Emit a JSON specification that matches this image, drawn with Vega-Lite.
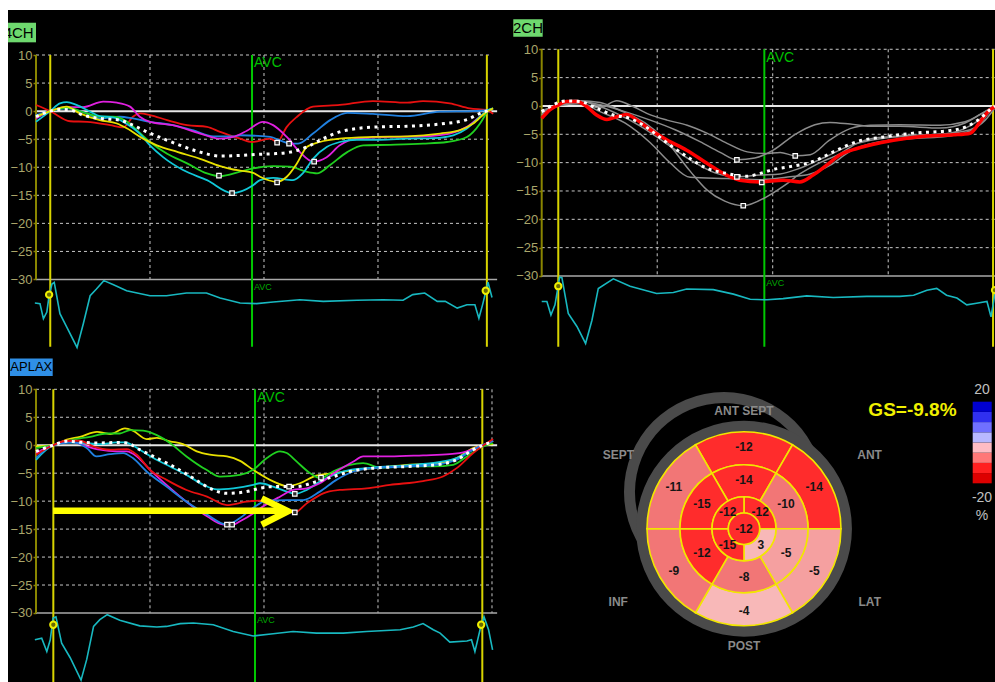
{
"$schema": "https://vega.github.io/schema/vega-lite/v6.json",
"background": "#ffffff",
"padding": {"left": 8, "top": 10, "right": 0, "bottom": 0},
"columns": 2,
"spacing": 0,
"bounds": "flush",
"config": {"font": "Liberation Sans", "view": {"stroke": null, "fill": "#000000"}},
"resolve": {"scale": {"color": "independent"}},
"datasets": {
"a4c": [
{"seg":"bAL","t":0,"s":1.1},{"seg":"bAL","t":25,"s":0},{"seg":"bAL","t":60,"s":-1.8},{"seg":"bAL","t":90,"s":-1.9},{"seg":"bAL","t":130,"s":-2.5},{"seg":"bAL","t":153,"s":-2.9},{"seg":"bAL","t":170,"s":-1.0},{"seg":"bAL","t":183,"s":-0.4},{"seg":"bAL","t":200,"s":-0.7},{"seg":"bAL","t":230,"s":-1.6},{"seg":"bAL","t":265,"s":-2.5},{"seg":"bAL","t":300,"s":-2.8},{"seg":"bAL","t":323,"s":-3.7},{"seg":"bAL","t":346,"s":-4.5},{"seg":"bAL","t":358,"s":-4.9},{"seg":"bAL","t":379,"s":-5.5},{"seg":"bAL","t":411,"s":-4.9},{"seg":"bAL","t":423,"s":-5.5},{"seg":"bAL","t":440,"s":-2.8},{"seg":"bAL","t":458,"s":-1.0},{"seg":"bAL","t":486,"s":0.8},{"seg":"bAL","t":533,"s":1.1},{"seg":"bAL","t":591,"s":1.8},{"seg":"bAL","t":651,"s":1.5},{"seg":"bAL","t":679,"s":1.8},{"seg":"bAL","t":726,"s":1.4},{"seg":"bAL","t":761,"s":0.5},{"seg":"bAL","t":791,"s":0.2},{"seg":"bAL","t":802,"s":-0.5},
{"seg":"mAL","t":0,"s":-0.7},{"seg":"mAL","t":25,"s":0},{"seg":"mAL","t":54,"s":0.5},{"seg":"mAL","t":89,"s":-0.4},{"seg":"mAL","t":112,"s":-1.3},{"seg":"mAL","t":147,"s":-1.0},{"seg":"mAL","t":170,"s":-1.3},{"seg":"mAL","t":200,"s":-1.9},{"seg":"mAL","t":240,"s":-2.5},{"seg":"mAL","t":275,"s":-3.4},{"seg":"mAL","t":311,"s":-4.5},{"seg":"mAL","t":346,"s":-4.5},{"seg":"mAL","t":358,"s":-4.3},{"seg":"mAL","t":411,"s":-4.6},{"seg":"mAL","t":428,"s":-5.2},{"seg":"mAL","t":446,"s":-5.8},{"seg":"mAL","t":460,"s":-5.8},{"seg":"mAL","t":486,"s":-4.0},{"seg":"mAL","t":516,"s":-1.6},{"seg":"mAL","t":546,"s":-0.3},{"seg":"mAL","t":591,"s":-0.5},{"seg":"mAL","t":651,"s":-0.9},{"seg":"mAL","t":709,"s":-0.1},{"seg":"mAL","t":767,"s":0.0},{"seg":"mAL","t":796,"s":0.2},
{"seg":"apL","t":0,"s":-1.3},{"seg":"apL","t":25,"s":0},{"seg":"apL","t":54,"s":0.7},{"seg":"apL","t":82,"s":0.7},{"seg":"apL","t":118,"s":1.7},{"seg":"apL","t":142,"s":1.5},{"seg":"apL","t":165,"s":0.8},{"seg":"apL","t":182,"s":-1.0},{"seg":"apL","t":200,"s":-1.9},{"seg":"apL","t":240,"s":-2.5},{"seg":"apL","t":288,"s":-4.0},{"seg":"apL","t":323,"s":-4.9},{"seg":"apL","t":346,"s":-4.6},{"seg":"apL","t":370,"s":-3.5},{"seg":"apL","t":398,"s":-1.9},{"seg":"apL","t":416,"s":-2.5},{"seg":"apL","t":440,"s":-4.6},{"seg":"apL","t":463,"s":-7.3},{"seg":"apL","t":486,"s":-9.0},{"seg":"apL","t":510,"s":-8.2},{"seg":"apL","t":533,"s":-6.1},{"seg":"apL","t":563,"s":-4.9},{"seg":"apL","t":621,"s":-4.6},{"seg":"apL","t":679,"s":-4.5},{"seg":"apL","t":726,"s":-4.0},{"seg":"apL","t":756,"s":-2.8},{"seg":"apL","t":779,"s":-1.0},{"seg":"apL","t":796,"s":0.2},
{"seg":"apS","t":0,"s":-1.0},{"seg":"apS","t":25,"s":0},{"seg":"apS","t":54,"s":0.6},{"seg":"apS","t":89,"s":-0.4},{"seg":"apS","t":112,"s":-1.0},{"seg":"apS","t":135,"s":-1.0},{"seg":"apS","t":160,"s":-1.9},{"seg":"apS","t":177,"s":-3.4},{"seg":"apS","t":200,"s":-5.5},{"seg":"apS","t":230,"s":-7.6},{"seg":"apS","t":265,"s":-9.3},{"seg":"apS","t":300,"s":-11.1},{"seg":"apS","t":323,"s":-11.6},{"seg":"apS","t":358,"s":-10.8},{"seg":"apS","t":381,"s":-10.2},{"seg":"apS","t":416,"s":-9.8},{"seg":"apS","t":446,"s":-9.9},{"seg":"apS","t":474,"s":-10.8},{"seg":"apS","t":493,"s":-11.1},{"seg":"apS","t":516,"s":-9.6},{"seg":"apS","t":546,"s":-7.3},{"seg":"apS","t":574,"s":-6.1},{"seg":"apS","t":621,"s":-6.0},{"seg":"apS","t":679,"s":-5.8},{"seg":"apS","t":721,"s":-5.5},{"seg":"apS","t":756,"s":-4.6},{"seg":"apS","t":779,"s":-2.2},{"seg":"apS","t":793,"s":0.2},
{"seg":"mIS","t":0,"s":-1.9},{"seg":"mIS","t":25,"s":0},{"seg":"mIS","t":42,"s":1.4},{"seg":"mIS","t":54,"s":1.6},{"seg":"mIS","t":71,"s":1.1},{"seg":"mIS","t":95,"s":-0.1},{"seg":"mIS","t":112,"s":-0.9},{"seg":"mIS","t":135,"s":-1.1},{"seg":"mIS","t":158,"s":-2.2},{"seg":"mIS","t":182,"s":-4.0},{"seg":"mIS","t":200,"s":-6.1},{"seg":"mIS","t":223,"s":-8.2},{"seg":"mIS","t":258,"s":-10.5},{"seg":"mIS","t":300,"s":-12.3},{"seg":"mIS","t":344,"s":-14.6},{"seg":"mIS","t":381,"s":-13.2},{"seg":"mIS","t":393,"s":-12.3},{"seg":"mIS","t":416,"s":-11.9},{"seg":"mIS","t":451,"s":-12.3},{"seg":"mIS","t":468,"s":-11.1},{"seg":"mIS","t":486,"s":-8.5},{"seg":"mIS","t":510,"s":-6.4},{"seg":"mIS","t":533,"s":-5.5},{"seg":"mIS","t":563,"s":-5.1},{"seg":"mIS","t":604,"s":-5.1},{"seg":"mIS","t":651,"s":-4.9},{"seg":"mIS","t":697,"s":-4.8},{"seg":"mIS","t":732,"s":-4.3},{"seg":"mIS","t":756,"s":-3.1},{"seg":"mIS","t":779,"s":-1.0},{"seg":"mIS","t":793,"s":0.2},{"seg":"mIS","t":802,"s":0.5},
{"seg":"bIS","t":0,"s":-1.0},{"seg":"bIS","t":25,"s":0},{"seg":"bIS","t":54,"s":0.8},{"seg":"bIS","t":77,"s":-0.4},{"seg":"bIS","t":112,"s":-1.6},{"seg":"bIS","t":142,"s":-2.2},{"seg":"bIS","t":160,"s":-3.1},{"seg":"bIS","t":188,"s":-4.9},{"seg":"bIS","t":212,"s":-6.1},{"seg":"bIS","t":249,"s":-7.3},{"seg":"bIS","t":288,"s":-8.5},{"seg":"bIS","t":323,"s":-9.8},{"seg":"bIS","t":346,"s":-10.4},{"seg":"bIS","t":358,"s":-10.6},{"seg":"bIS","t":381,"s":-11.0},{"seg":"bIS","t":393,"s":-11.7},{"seg":"bIS","t":423,"s":-12.6},{"seg":"bIS","t":440,"s":-11.7},{"seg":"bIS","t":458,"s":-9.3},{"seg":"bIS","t":475,"s":-6.4},{"seg":"bIS","t":498,"s":-5.5},{"seg":"bIS","t":533,"s":-4.9},{"seg":"bIS","t":591,"s":-4.6},{"seg":"bIS","t":651,"s":-4.5},{"seg":"bIS","t":709,"s":-4.0},{"seg":"bIS","t":744,"s":-3.4},{"seg":"bIS","t":767,"s":-2.2},{"seg":"bIS","t":791,"s":-0.1},{"seg":"bIS","t":802,"s":0.5}
],
"a4cAvg": [
{"t":0,"s":-1.0},{"t":25,"s":0},{"t":42,"s":0.3},{"t":60,"s":0.2},{"t":82,"s":-0.7},{"t":112,"s":-1.3},{"t":147,"s":-1.6},{"t":170,"s":-2.5},{"t":195,"s":-3.7},{"t":223,"s":-4.9},{"t":253,"s":-6.1},{"t":288,"s":-7.3},{"t":323,"s":-8.0},{"t":358,"s":-7.9},{"t":388,"s":-7.7},{"t":416,"s":-7.6},{"t":446,"s":-7.3},{"t":475,"s":-6.4},{"t":504,"s":-4.9},{"t":533,"s":-3.7},{"t":563,"s":-3.1},{"t":604,"s":-2.8},{"t":651,"s":-2.7},{"t":709,"s":-2.3},{"t":756,"s":-1.5},{"t":779,"s":-0.4},{"t":796,"s":0.2}
],
"a4cPk": [
{"seg":"apS","t":321,"s":-11.5},{"seg":"mIS","t":344,"s":-14.6},{"seg":"bAL","t":423,"s":-5.6},{"seg":"mAL","t":444,"s":-5.8},{"seg":"bIS","t":423,"s":-12.7},{"seg":"apL","t":488,"s":-9.0}
],
"a4cEcg": [
{"t":-2,"ecg":-34.2},{"t":7,"ecg":-34.3},{"t":13,"ecg":-37.0},{"t":19,"ecg":-35.8},{"t":23,"ecg":-32.9},{"t":28,"ecg":-30.8},{"t":32,"ecg":-30.5},{"t":42,"ecg":-36.1},{"t":54,"ecg":-38.5},{"t":72,"ecg":-42.1},{"t":83,"ecg":-37.9},{"t":95,"ecg":-32.9},{"t":106,"ecg":-31.7},{"t":119,"ecg":-30.2},{"t":135,"ecg":-30.9},{"t":159,"ecg":-32.0},{"t":200,"ecg":-32.9},{"t":229,"ecg":-32.9},{"t":264,"ecg":-32.4},{"t":299,"ecg":-32.4},{"t":323,"ecg":-33.3},{"t":358,"ecg":-34.2},{"t":387,"ecg":-34.3},{"t":416,"ecg":-34.0},{"t":463,"ecg":-33.6},{"t":504,"ecg":-33.9},{"t":563,"ecg":-33.7},{"t":609,"ecg":-33.6},{"t":644,"ecg":-33.7},{"t":661,"ecg":-32.7},{"t":682,"ecg":-32.4},{"t":704,"ecg":-33.9},{"t":718,"ecg":-33.9},{"t":739,"ecg":-35.1},{"t":756,"ecg":-34.5},{"t":770,"ecg":-34.5},{"t":777,"ecg":-36.9},{"t":784,"ecg":-34.3},{"t":793,"ecg":-30.5},{"t":800,"ecg":-33.2}
],
"a2c": [
{"seg":"bA","t":0,"s":-2.2},{"seg":"bA","t":14,"s":-0.7},{"seg":"bA","t":29,"s":0.2},{"seg":"bA","t":43,"s":0.8},{"seg":"bA","t":61,"s":0.8},{"seg":"bA","t":78,"s":-0.1},{"seg":"bA","t":95,"s":-1.6},{"seg":"bA","t":113,"s":-2.4},{"seg":"bA","t":130,"s":-1.9},{"seg":"bA","t":147,"s":-1.5},{"seg":"bA","t":165,"s":-2.5},{"seg":"bA","t":188,"s":-4.2},{"seg":"bA","t":217,"s":-6.0},{"seg":"bA","t":251,"s":-7.8},{"seg":"bA","t":286,"s":-10.1},{"seg":"bA","t":320,"s":-12.2},{"seg":"bA","t":343,"s":-13.1},{"seg":"bA","t":378,"s":-13.4},{"seg":"bA","t":418,"s":-13.1},{"seg":"bA","t":447,"s":-13.4},{"seg":"bA","t":470,"s":-12.2},{"seg":"bA","t":494,"s":-10.4},{"seg":"bA","t":517,"s":-8.6},{"seg":"bA","t":546,"s":-7.5},{"seg":"bA","t":586,"s":-6.5},{"seg":"bA","t":632,"s":-5.7},{"seg":"bA","t":667,"s":-5.3},{"seg":"bA","t":713,"s":-5.1},{"seg":"bA","t":742,"s":-4.8},{"seg":"bA","t":759,"s":-2.8},{"seg":"bA","t":776,"s":-0.7},{"seg":"bA","t":785,"s":-0.1},
{"seg":"bI","t":0,"s":-1.2},{"seg":"bI","t":28,"s":0.1},{"seg":"bI","t":58,"s":0.9},{"seg":"bI","t":101,"s":0.2},{"seg":"bI","t":144,"s":-1.0},{"seg":"bI","t":188,"s":-2.5},{"seg":"bI","t":231,"s":-4.2},{"seg":"bI","t":274,"s":-6.3},{"seg":"bI","t":309,"s":-8.2},{"seg":"bI","t":338,"s":-9.5},{"seg":"bI","t":369,"s":-9.2},{"seg":"bI","t":401,"s":-7.8},{"seg":"bI","t":439,"s":-5.0},{"seg":"bI","t":473,"s":-3.3},{"seg":"bI","t":499,"s":-2.9},{"seg":"bI","t":534,"s":-3.2},{"seg":"bI","t":569,"s":-3.6},{"seg":"bI","t":620,"s":-3.6},{"seg":"bI","t":690,"s":-3.9},{"seg":"bI","t":733,"s":-3.0},{"seg":"bI","t":759,"s":-1.5},{"seg":"bI","t":785,"s":0.1},
{"seg":"mI","t":0,"s":-1.6},{"seg":"mI","t":28,"s":0},{"seg":"mI","t":66,"s":0.4},{"seg":"mI","t":101,"s":-0.3},{"seg":"mI","t":130,"s":0.9},{"seg":"mI","t":158,"s":-0.1},{"seg":"mI","t":182,"s":-1.3},{"seg":"mI","t":217,"s":-2.5},{"seg":"mI","t":252,"s":-3.4},{"seg":"mI","t":286,"s":-4.8},{"seg":"mI","t":321,"s":-6.6},{"seg":"mI","t":356,"s":-8.1},{"seg":"mI","t":387,"s":-8.4},{"seg":"mI","t":413,"s":-8.2},{"seg":"mI","t":439,"s":-8.8},{"seg":"mI","t":465,"s":-8.6},{"seg":"mI","t":499,"s":-6.0},{"seg":"mI","t":534,"s":-4.0},{"seg":"mI","t":569,"s":-3.4},{"seg":"mI","t":620,"s":-3.3},{"seg":"mI","t":690,"s":-3.4},{"seg":"mI","t":733,"s":-2.8},{"seg":"mI","t":768,"s":-1.0},{"seg":"mI","t":785,"s":0},
{"seg":"apI","t":0,"s":-0.8},{"seg":"apI","t":28,"s":0.1},{"seg":"apI","t":66,"s":0.9},{"seg":"apI","t":101,"s":0.6},{"seg":"apI","t":136,"s":-0.8},{"seg":"apI","t":179,"s":-3.0},{"seg":"apI","t":214,"s":-6.0},{"seg":"apI","t":257,"s":-11.5},{"seg":"apI","t":286,"s":-14.8},{"seg":"apI","t":317,"s":-16.8},{"seg":"apI","t":349,"s":-17.6},{"seg":"apI","t":390,"s":-16.0},{"seg":"apI","t":418,"s":-14.2},{"seg":"apI","t":447,"s":-12.0},{"seg":"apI","t":482,"s":-10.0},{"seg":"apI","t":517,"s":-8.4},{"seg":"apI","t":546,"s":-6.6},{"seg":"apI","t":574,"s":-5.7},{"seg":"apI","t":620,"s":-5.3},{"seg":"apI","t":690,"s":-5.0},{"seg":"apI","t":742,"s":-4.2},{"seg":"apI","t":768,"s":-2.5},{"seg":"apI","t":785,"s":-0.3},
{"seg":"apA","t":0,"s":-1.0},{"seg":"apA","t":28,"s":0.2},{"seg":"apA","t":58,"s":1.0},{"seg":"apA","t":92,"s":0.2},{"seg":"apA","t":127,"s":-1.2},{"seg":"apA","t":170,"s":-3.5},{"seg":"apA","t":214,"s":-6.5},{"seg":"apA","t":257,"s":-9.5},{"seg":"apA","t":300,"s":-11.8},{"seg":"apA","t":338,"s":-12.5},{"seg":"apA","t":378,"s":-12.2},{"seg":"apA","t":413,"s":-12.0},{"seg":"apA","t":447,"s":-11.0},{"seg":"apA","t":491,"s":-9.0},{"seg":"apA","t":534,"s":-7.0},{"seg":"apA","t":586,"s":-5.8},{"seg":"apA","t":638,"s":-5.3},{"seg":"apA","t":707,"s":-4.8},{"seg":"apA","t":750,"s":-3.0},{"seg":"apA","t":785,"s":0},
{"seg":"mA","t":0,"s":-1.5},{"seg":"mA","t":28,"s":0},{"seg":"mA","t":63,"s":0.6},{"seg":"mA","t":101,"s":-1.0},{"seg":"mA","t":144,"s":-3.0},{"seg":"mA","t":188,"s":-6.5},{"seg":"mA","t":222,"s":-10.0},{"seg":"mA","t":257,"s":-12.6},{"seg":"mA","t":321,"s":-12.8},{"seg":"mA","t":378,"s":-13.0},{"seg":"mA","t":430,"s":-12.5},{"seg":"mA","t":465,"s":-12.0},{"seg":"mA","t":499,"s":-10.5},{"seg":"mA","t":534,"s":-8.0},{"seg":"mA","t":577,"s":-6.5},{"seg":"mA","t":638,"s":-5.8},{"seg":"mA","t":707,"s":-5.3},{"seg":"mA","t":750,"s":-4.0},{"seg":"mA","t":776,"s":-1.0},{"seg":"mA","t":785,"s":0}
],
"a2cAvg": [
{"t":0,"s":-1.0},{"t":20,"s":0.2},{"t":43,"s":0.9},{"t":66,"s":0.8},{"t":95,"s":-0.4},{"t":124,"s":-1.6},{"t":153,"s":-2.2},{"t":176,"s":-3.4},{"t":199,"s":-5.1},{"t":222,"s":-6.9},{"t":251,"s":-8.9},{"t":286,"s":-11.0},{"t":320,"s":-11.9},{"t":355,"s":-12.4},{"t":378,"s":-11.9},{"t":401,"s":-11.2},{"t":430,"s":-10.7},{"t":470,"s":-9.8},{"t":505,"s":-8.1},{"t":546,"s":-6.3},{"t":598,"s":-5.4},{"t":643,"s":-4.8},{"t":702,"s":-4.4},{"t":737,"s":-3.6},{"t":759,"s":-2.2},{"t":776,"s":-0.7},{"t":785,"s":0}
],
"a2cPk": [
{"seg":"bI","t":338,"s":-9.5},{"seg":"mI","t":439,"s":-8.8},{"seg":"apI","t":349,"s":-17.6},{"seg":"apA","t":338,"s":-12.5},{"seg":"bA","t":381,"s":-13.5}
],
"a2cEcg": [
{"t":0,"ecg":-34.5},{"t":9,"ecg":-34.5},{"t":16,"ecg":-36.9},{"t":23,"ecg":-35.1},{"t":31,"ecg":-30.2},{"t":35,"ecg":-30.3},{"t":46,"ecg":-36.6},{"t":61,"ecg":-38.9},{"t":76,"ecg":-41.9},{"t":87,"ecg":-37.8},{"t":98,"ecg":-32.2},{"t":124,"ecg":-30.5},{"t":153,"ecg":-31.8},{"t":199,"ecg":-33.1},{"t":228,"ecg":-32.9},{"t":251,"ecg":-32.3},{"t":297,"ecg":-32.4},{"t":332,"ecg":-33.2},{"t":361,"ecg":-34.1},{"t":390,"ecg":-34.2},{"t":418,"ecg":-34.0},{"t":459,"ecg":-33.5},{"t":505,"ecg":-33.8},{"t":563,"ecg":-33.6},{"t":620,"ecg":-33.6},{"t":644,"ecg":-33.4},{"t":667,"ecg":-32.5},{"t":684,"ecg":-32.2},{"t":701,"ecg":-33.4},{"t":719,"ecg":-33.9},{"t":736,"ecg":-35.1},{"t":753,"ecg":-34.8},{"t":771,"ecg":-34.5},{"t":778,"ecg":-37.2},{"t":785,"ecg":-33.0}
],
"alax": [
{"seg":"bAS","t":0,"s":-0.2},{"seg":"bAS","t":30,"s":0},{"seg":"bAS","t":54,"s":1.0},{"seg":"bAS","t":77,"s":1.5},{"seg":"bAS","t":107,"s":2.4},{"seg":"bAS","t":130,"s":2.0},{"seg":"bAS","t":156,"s":3.0},{"seg":"bAS","t":170,"s":2.6},{"seg":"bAS","t":194,"s":1.1},{"seg":"bAS","t":212,"s":1.3},{"seg":"bAS","t":235,"s":0.7},{"seg":"bAS","t":258,"s":0.2},{"seg":"bAS","t":282,"s":-1.1},{"seg":"bAS","t":305,"s":-1.7},{"seg":"bAS","t":335,"s":-2.0},{"seg":"bAS","t":358,"s":-2.8},{"seg":"bAS","t":381,"s":-4.4},{"seg":"bAS","t":417,"s":-6.5},{"seg":"bAS","t":440,"s":-7.3},{"seg":"bAS","t":463,"s":-6.8},{"seg":"bAS","t":487,"s":-5.6},{"seg":"bAS","t":522,"s":-5.0},{"seg":"bAS","t":563,"s":-4.4},{"seg":"bAS","t":604,"s":-4.0},{"seg":"bAS","t":651,"s":-3.5},{"seg":"bAS","t":709,"s":-3.2},{"seg":"bAS","t":738,"s":-2.3},{"seg":"bAS","t":767,"s":-0.5},{"seg":"bAS","t":802,"s":0.2},
{"seg":"mAS","t":0,"s":-0.5},{"seg":"mAS","t":30,"s":0},{"seg":"mAS","t":65,"s":1.0},{"seg":"mAS","t":95,"s":1.5},{"seg":"mAS","t":124,"s":2.1},{"seg":"mAS","t":147,"s":2.1},{"seg":"mAS","t":165,"s":2.7},{"seg":"mAS","t":188,"s":2.6},{"seg":"mAS","t":212,"s":1.8},{"seg":"mAS","t":235,"s":0.4},{"seg":"mAS","t":264,"s":-2.0},{"seg":"mAS","t":299,"s":-4.4},{"seg":"mAS","t":323,"s":-5.6},{"seg":"mAS","t":358,"s":-5.3},{"seg":"mAS","t":381,"s":-4.4},{"seg":"mAS","t":405,"s":-2.3},{"seg":"mAS","t":428,"s":-1.1},{"seg":"mAS","t":440,"s":-1.4},{"seg":"mAS","t":457,"s":-2.9},{"seg":"mAS","t":481,"s":-5.0},{"seg":"mAS","t":498,"s":-5.9},{"seg":"mAS","t":521,"s":-4.7},{"seg":"mAS","t":551,"s":-3.5},{"seg":"mAS","t":574,"s":-3.2},{"seg":"mAS","t":604,"s":-4.0},{"seg":"mAS","t":650,"s":-3.8},{"seg":"mAS","t":697,"s":-3.8},{"seg":"mAS","t":732,"s":-3.5},{"seg":"mAS","t":756,"s":-2.0},{"seg":"mAS","t":779,"s":-0.5},{"seg":"mAS","t":802,"s":0.4},
{"seg":"apA","t":0,"s":-2.6},{"seg":"apA","t":30,"s":0},{"seg":"apA","t":54,"s":0.5},{"seg":"apA","t":83,"s":0.4},{"seg":"apA","t":112,"s":0.2},{"seg":"apA","t":142,"s":0.5},{"seg":"apA","t":156,"s":0.5},{"seg":"apA","t":182,"s":-0.8},{"seg":"apA","t":206,"s":-2.3},{"seg":"apA","t":235,"s":-3.8},{"seg":"apA","t":264,"s":-5.3},{"seg":"apA","t":294,"s":-7.1},{"seg":"apA","t":317,"s":-7.9},{"seg":"apA","t":346,"s":-7.7},{"seg":"apA","t":381,"s":-7.1},{"seg":"apA","t":393,"s":-6.8},{"seg":"apA","t":416,"s":-7.4},{"seg":"apA","t":440,"s":-8.3},{"seg":"apA","t":454,"s":-8.7},{"seg":"apA","t":475,"s":-8.0},{"seg":"apA","t":498,"s":-6.5},{"seg":"apA","t":522,"s":-5.3},{"seg":"apA","t":551,"s":-4.4},{"seg":"apA","t":592,"s":-4.0},{"seg":"apA","t":651,"s":-3.6},{"seg":"apA","t":709,"s":-3.0},{"seg":"apA","t":738,"s":-2.3},{"seg":"apA","t":767,"s":-0.8},{"seg":"apA","t":802,"s":0.8},
{"seg":"apL","t":0,"s":-1.4},{"seg":"apL","t":30,"s":0},{"seg":"apL","t":60,"s":0.7},{"seg":"apL","t":89,"s":-0.2},{"seg":"apL","t":112,"s":-0.8},{"seg":"apL","t":142,"s":-1.1},{"seg":"apL","t":159,"s":-1.1},{"seg":"apL","t":177,"s":-2.0},{"seg":"apL","t":200,"s":-4.4},{"seg":"apL","t":229,"s":-7.1},{"seg":"apL","t":264,"s":-10.1},{"seg":"apL","t":300,"s":-12.7},{"seg":"apL","t":329,"s":-14.2},{"seg":"apL","t":346,"s":-14.2},{"seg":"apL","t":358,"s":-13.6},{"seg":"apL","t":381,"s":-12.2},{"seg":"apL","t":393,"s":-11.3},{"seg":"apL","t":428,"s":-9.2},{"seg":"apL","t":451,"s":-8.0},{"seg":"apL","t":475,"s":-7.7},{"seg":"apL","t":498,"s":-6.8},{"seg":"apL","t":527,"s":-4.7},{"seg":"apL","t":557,"s":-2.9},{"seg":"apL","t":574,"s":-2.0},{"seg":"apL","t":621,"s":-2.0},{"seg":"apL","t":679,"s":-1.8},{"seg":"apL","t":726,"s":-1.6},{"seg":"apL","t":756,"s":-1.1},{"seg":"apL","t":779,"s":-0.2},{"seg":"apL","t":802,"s":0.8},
{"seg":"mIL","t":0,"s":-2.3},{"seg":"mIL","t":30,"s":0},{"seg":"mIL","t":65,"s":0.5},{"seg":"mIL","t":89,"s":-0.5},{"seg":"mIL","t":106,"s":-2.0},{"seg":"mIL","t":130,"s":-1.6},{"seg":"mIL","t":153,"s":-1.4},{"seg":"mIL","t":170,"s":-2.3},{"seg":"mIL","t":194,"s":-4.7},{"seg":"mIL","t":229,"s":-7.4},{"seg":"mIL","t":264,"s":-10.1},{"seg":"mIL","t":300,"s":-12.4},{"seg":"mIL","t":335,"s":-14.2},{"seg":"mIL","t":358,"s":-13.0},{"seg":"mIL","t":381,"s":-11.2},{"seg":"mIL","t":405,"s":-9.9},{"seg":"mIL","t":440,"s":-9.8},{"seg":"mIL","t":469,"s":-9.8},{"seg":"mIL","t":498,"s":-8.3},{"seg":"mIL","t":527,"s":-6.2},{"seg":"mIL","t":557,"s":-4.7},{"seg":"mIL","t":592,"s":-4.1},{"seg":"mIL","t":651,"s":-3.8},{"seg":"mIL","t":709,"s":-3.4},{"seg":"mIL","t":738,"s":-2.6},{"seg":"mIL","t":767,"s":-0.8},{"seg":"mIL","t":802,"s":0.8},
{"seg":"bIL","t":0,"s":-1.7},{"seg":"bIL","t":30,"s":0},{"seg":"bIL","t":54,"s":0.8},{"seg":"bIL","t":77,"s":0.8},{"seg":"bIL","t":100,"s":-0.2},{"seg":"bIL","t":130,"s":-0.8},{"seg":"bIL","t":159,"s":-0.7},{"seg":"bIL","t":177,"s":-1.7},{"seg":"bIL","t":200,"s":-4.4},{"seg":"bIL","t":229,"s":-6.2},{"seg":"bIL","t":264,"s":-8.0},{"seg":"bIL","t":300,"s":-9.2},{"seg":"bIL","t":335,"s":-10.7},{"seg":"bIL","t":369,"s":-10.1},{"seg":"bIL","t":393,"s":-9.9},{"seg":"bIL","t":419,"s":-10.8},{"seg":"bIL","t":442,"s":-11.9},{"seg":"bIL","t":454,"s":-12.0},{"seg":"bIL","t":475,"s":-10.4},{"seg":"bIL","t":504,"s":-8.6},{"seg":"bIL","t":533,"s":-8.0},{"seg":"bIL","t":580,"s":-7.7},{"seg":"bIL","t":621,"s":-7.1},{"seg":"bIL","t":679,"s":-6.4},{"seg":"bIL","t":714,"s":-5.6},{"seg":"bIL","t":738,"s":-4.1},{"seg":"bIL","t":767,"s":-1.4},{"seg":"bIL","t":802,"s":1.1}
],
"alaxAvg": [
{"t":0,"s":-1.1},{"t":30,"s":0},{"t":54,"s":0.7},{"t":83,"s":0.5},{"t":112,"s":0.4},{"t":142,"s":0.5},{"t":159,"s":0.4},{"t":182,"s":-0.8},{"t":212,"s":-2.3},{"t":241,"s":-3.8},{"t":276,"s":-5.9},{"t":305,"s":-7.7},{"t":335,"s":-8.6},{"t":369,"s":-8.3},{"t":393,"s":-7.7},{"t":416,"s":-7.4},{"t":457,"s":-7.4},{"t":492,"s":-6.5},{"t":522,"s":-5.6},{"t":551,"s":-4.7},{"t":592,"s":-4.1},{"t":651,"s":-3.8},{"t":709,"s":-3.4},{"t":738,"s":-2.6},{"t":767,"s":-0.8},{"t":802,"s":0.7}
],
"alaxPk": [
{"seg":"mIL","t":335,"s":-14.2},{"seg":"apL","t":344,"s":-14.2},{"seg":"bAS","t":444,"s":-7.4},{"seg":"apA","t":454,"s":-8.7},{"seg":"bIL","t":454,"s":-12.0},{"seg":"mAS","t":500,"s":-5.8}
],
"alaxEcg": [
{"t":-2,"ecg":-34.8},{"t":10,"ecg":-34.5},{"t":19,"ecg":-36.9},{"t":25,"ecg":-34.8},{"t":30,"ecg":-30.9},{"t":35,"ecg":-30.7},{"t":45,"ecg":-35.4},{"t":60,"ecg":-38.0},{"t":79,"ecg":-42.0},{"t":89,"ecg":-38.3},{"t":101,"ecg":-32.4},{"t":112,"ecg":-31.2},{"t":125,"ecg":-30.3},{"t":147,"ecg":-31.3},{"t":182,"ecg":-32.3},{"t":212,"ecg":-32.5},{"t":229,"ecg":-32.4},{"t":253,"ecg":-31.9},{"t":276,"ecg":-31.8},{"t":311,"ecg":-32.1},{"t":346,"ecg":-33.3},{"t":381,"ecg":-34.1},{"t":416,"ecg":-33.7},{"t":451,"ecg":-33.3},{"t":492,"ecg":-33.6},{"t":539,"ecg":-33.6},{"t":580,"ecg":-33.3},{"t":639,"ecg":-33.0},{"t":662,"ecg":-32.5},{"t":679,"ecg":-31.9},{"t":697,"ecg":-33.0},{"t":709,"ecg":-33.6},{"t":726,"ecg":-35.2},{"t":756,"ecg":-35.0},{"t":764,"ecg":-34.8},{"t":770,"ecg":-36.9},{"t":779,"ecg":-33.0},{"t":786,"ecg":-30.7},{"t":794,"ecg":-33.0},{"t":801,"ecg":-36.6}
],
"arrow": [
{"part":"shaft","k":1,"t":30,"s":-11.7},{"part":"shaft","k":2,"t":433,"s":-11.7},
{"part":"head","k":1,"t":396,"s":-9.5},{"part":"head","k":2,"t":442,"s":-11.8},{"part":"head","k":3,"t":396,"s":-14.2}
],
"bull": [
{"ring":"basal","wall":"ANT SEPT","a0":330,"a1":390,"r0":0.66,"r1":1.0,"v":-12,"am":0,"rm":0.845},
{"ring":"basal","wall":"ANT","a0":30,"a1":90,"r0":0.66,"r1":1.0,"v":-14,"am":59,"rm":0.845},
{"ring":"basal","wall":"LAT","a0":90,"a1":150,"r0":0.66,"r1":1.0,"v":-5,"am":121,"rm":0.845},
{"ring":"basal","wall":"POST","a0":150,"a1":210,"r0":0.66,"r1":1.0,"v":-4,"am":180,"rm":0.845},
{"ring":"basal","wall":"INF","a0":210,"a1":270,"r0":0.66,"r1":1.0,"v":-9,"am":239,"rm":0.845},
{"ring":"basal","wall":"SEPT","a0":270,"a1":330,"r0":0.66,"r1":1.0,"v":-11,"am":301,"rm":0.845},
{"ring":"mid","wall":"ANT SEPT","a0":330,"a1":390,"r0":0.33,"r1":0.66,"v":-14,"am":0,"rm":0.5},
{"ring":"mid","wall":"ANT","a0":30,"a1":90,"r0":0.33,"r1":0.66,"v":-10,"am":60,"rm":0.5},
{"ring":"mid","wall":"LAT","a0":90,"a1":150,"r0":0.33,"r1":0.66,"v":-5,"am":120,"rm":0.5},
{"ring":"mid","wall":"POST","a0":150,"a1":210,"r0":0.33,"r1":0.66,"v":-8,"am":180,"rm":0.5},
{"ring":"mid","wall":"INF","a0":210,"a1":270,"r0":0.33,"r1":0.66,"v":-12,"am":240,"rm":0.5},
{"ring":"mid","wall":"SEPT","a0":270,"a1":330,"r0":0.33,"r1":0.66,"v":-15,"am":300,"rm":0.5},
{"ring":"apical","wall":"ANT","a0":0,"a1":90,"r0":0.162,"r1":0.33,"v":-12,"am":44,"rm":0.242},
{"ring":"apical","wall":"LAT","a0":90,"a1":180,"r0":0.162,"r1":0.33,"v":3,"am":134,"rm":0.242},
{"ring":"apical","wall":"INF","a0":180,"a1":270,"r0":0.162,"r1":0.33,"v":-15,"am":225,"rm":0.242},
{"ring":"apical","wall":"SEPT","a0":270,"a1":360,"r0":0.162,"r1":0.33,"v":-12,"am":316,"rm":0.242},
{"ring":"apex","wall":"APEX","a0":0,"a1":360,"r0":0,"r1":0.162,"v":-12,"am":0,"rm":0}
],
"walls": [
{"wall":"ANT SEPT","ang":0,"rad":1.217},{"wall":"ANT","ang":59.7,"rad":1.5},{"wall":"LAT","ang":120.2,"rad":1.5},{"wall":"POST","ang":180,"rad":1.209},{"wall":"INF","ang":239.8,"rad":1.5},{"wall":"SEPT","ang":300.3,"rad":1.5}
],
"scaleBar": [
{"lo":-20,"hi":-15},{"lo":-15,"hi":-10},{"lo":-10,"hi":-5},{"lo":-5,"hi":0},{"lo":0,"hi":5},{"lo":5,"hi":10},{"lo":10,"hi":15},{"lo":15,"hi":20}
]
},
"concat": [
{
"width": 497, "height": 342,
"layer": [
{"data": {"values": [{"s":10},{"s":5},{"s":-5},{"s":-10},{"s":-15},{"s":-20},{"s":-25}]},
 "mark": {"type":"rule","stroke":"#c8c8c8","strokeWidth":1,"strokeDash":[3,3]},
 "encoding": {
  "x": {"datum":0,"type":"quantitative","scale":{"domain":[-49.12,822.81],"nice":false,"zero":false},"axis":null},
  "x2": {"datum":800},
  "y": {"field":"s","type":"quantitative","scale":{"domain":[-42.92,18.02],"nice":false,"zero":false},
   "axis":{"values":[10,5,0,-5,-10,-15,-20,-25,-30],"offset":-28,"labels":true,"ticks":true,"tickSize":3,"tickColor":"#8a8600","tickWidth":1.5,"labelColor":"#aaa66a","labelFontSize":13,"labelFont":"Liberation Sans","labelPadding":1,"domain":false,"grid":false,"title":null}}}},
{"data": {"values": [{"t":200},{"t":400},{"t":600}]},
 "mark": {"type":"rule","stroke":"#c8c8c8","strokeWidth":1,"strokeDash":[3,3]},
 "encoding": {"x":{"field":"t","type":"quantitative","axis":null},"y":{"datum":10},"y2":{"datum":-30}}},
{"data": {"values": [{"s":0}]}, "mark": {"type":"rule","stroke":"#e6e6e6","strokeWidth":2},
 "encoding": {"x":{"datum":0,"axis":null},"x2":{"datum":809},"y":{"field":"s","type":"quantitative"}}},
{"data": {"values": [{"s":-30}]}, "mark": {"type":"rule","stroke":"#a8a8a8","strokeWidth":1.5},
 "encoding": {"x":{"datum":0,"axis":null},"x2":{"datum":809},"y":{"field":"s","type":"quantitative"}}},
{"data": {"values": [{"t":0}]}, "mark": {"type":"rule","stroke":"#8a8600","strokeWidth":2},
 "encoding": {"x":{"field":"t","type":"quantitative","axis":null},"y":{"datum":10},"y2":{"datum":-30}}},
{"data": {"values": [{"t":25},{"t":791}]}, "mark": {"type":"rule","stroke":"#d8d400","strokeWidth":2},
 "encoding": {"x":{"field":"t","type":"quantitative","axis":null},"y":{"datum":10},"y2":{"datum":-42}}},
{"data": {"values": [{"t":379}]}, "mark": {"type":"rule","stroke":"#00c800","strokeWidth":2},
 "encoding": {"x":{"field":"t","type":"quantitative","axis":null},"y":{"datum":10},"y2":{"datum":-42}}},
{"data": {"values": [{"t":379,"label":"AVC"}]}, "mark": {"type":"text","fill":"#00c000","fontSize":14,"align":"left","baseline":"middle","dx":2},
 "encoding": {"x":{"field":"t","type":"quantitative","axis":null},"y":{"datum":8.6},"text":{"field":"label"}}},
{"data": {"values": [{"t":379,"label":"AVC"}]}, "mark": {"type":"text","fill":"#00a800","fontSize":9,"align":"left","baseline":"middle","dx":2},
 "encoding": {"x":{"field":"t","type":"quantitative","axis":null},"y":{"datum":-31.25},"text":{"field":"label"}}},
{"data": {"name":"a4c"}, "mark": {"type":"line","strokeWidth":1.8,"interpolate":"monotone"},
 "encoding": {"x":{"field":"t","type":"quantitative","axis":null},"y":{"field":"s","type":"quantitative"},
  "color":{"field":"seg","type":"nominal","scale":{"domain":["bAL","mAL","apL","apS","mIS","bIS"],"range":["#e81010","#2080e0","#e020e0","#20d020","#10c8d8","#e8e000"]},"legend":null}}},
{"data": {"name":"a4cAvg"}, "mark": {"type":"line","color":"#ffffff","strokeWidth":3,"strokeDash":[3,4.5],"interpolate":"monotone"},
 "encoding": {"x":{"field":"t","type":"quantitative","axis":null},"y":{"field":"s","type":"quantitative"}}},
{"data": {"name":"a4cPk"}, "mark": {"type":"point","shape":"square","size":20,"filled":true,"fill":"#303030","stroke":"#ffffff","strokeWidth":1.2,"opacity":1},
 "encoding": {"x":{"field":"t","type":"quantitative","axis":null},"y":{"field":"s","type":"quantitative"}}},
{"data": {"name":"a4cEcg"}, "mark": {"type":"line","color":"#18b8c0","strokeWidth":1.6,"clip":true},
 "encoding": {"x":{"field":"t","type":"quantitative","axis":null},"y":{"field":"ecg","type":"quantitative"}}},
{"data": {"values": [{"t":23,"ecg":-32.7},{"t":789,"ecg":-32.0}]}, "mark": {"type":"point","shape":"circle","size":40,"filled":true,"fill":"#6a6a00","stroke":"#f0f000","strokeWidth":2,"opacity":1},
 "encoding": {"x":{"field":"t","type":"quantitative","axis":null},"y":{"field":"ecg","type":"quantitative"}}},
{"data": {"values": [{"label":"4CH"}]}, "mark": {"type":"rect","fill":"#6ed86e"},
 "encoding": {"x":{"datum":-49.12,"axis":null},"x2":{"datum":0},"y":{"datum":15.75},"y2":{"datum":12.26}}},
{"data": {"values": [{"label":"4CH"}]}, "mark": {"type":"text","fill":"#000000","fontSize":15,"align":"center","baseline":"middle","clip":true},
 "encoding": {"x":{"datum":-30.4,"axis":null},"y":{"datum":14.0},"text":{"field":"label"}}}
]
},
{
"width": 490, "height": 342,
"layer": [
{"data": {"values": [{"s":10},{"s":5},{"s":-5},{"s":-10},{"s":-15},{"s":-20},{"s":-25}]},
 "mark": {"type":"rule","stroke":"#c8c8c8","strokeWidth":1,"strokeDash":[3,3]},
 "encoding": {
  "x": {"datum":0,"type":"quantitative","scale":{"domain":[-63.55,784.9],"nice":false,"zero":false},"axis":null},
  "x2": {"datum":785},
  "y": {"field":"s","type":"quantitative","scale":{"domain":[-43.41,16.93],"nice":false,"zero":false},
   "axis":{"values":[10,5,0,-5,-10,-15,-20,-25,-30],"offset":-36.7,"labels":true,"ticks":true,"tickSize":3,"tickColor":"#8a8600","tickWidth":1.5,"labelColor":"#aaa66a","labelFontSize":13,"labelFont":"Liberation Sans","labelPadding":1,"domain":false,"grid":false,"title":null}}}},
{"data": {"values": [{"t":200},{"t":400},{"t":600}]},
 "mark": {"type":"rule","stroke":"#c8c8c8","strokeWidth":1,"strokeDash":[3,3]},
 "encoding": {"x":{"field":"t","type":"quantitative","axis":null},"y":{"datum":10},"y2":{"datum":-30}}},
{"data": {"values": [{"s":0}]}, "mark": {"type":"rule","stroke":"#e6e6e6","strokeWidth":2},
 "encoding": {"x":{"datum":0,"axis":null},"x2":{"datum":785},"y":{"field":"s","type":"quantitative"}}},
{"data": {"values": [{"s":-30}]}, "mark": {"type":"rule","stroke":"#a8a8a8","strokeWidth":1.5},
 "encoding": {"x":{"datum":0,"axis":null},"x2":{"datum":785},"y":{"field":"s","type":"quantitative"}}},
{"data": {"values": [{"t":0}]}, "mark": {"type":"rule","stroke":"#8a8600","strokeWidth":2},
 "encoding": {"x":{"field":"t","type":"quantitative","axis":null},"y":{"datum":10},"y2":{"datum":-30}}},
{"data": {"values": [{"t":28.7},{"t":781.5}]}, "mark": {"type":"rule","stroke":"#d8d400","strokeWidth":2},
 "encoding": {"x":{"field":"t","type":"quantitative","axis":null},"y":{"datum":10},"y2":{"datum":-42.5}}},
{"data": {"values": [{"t":385.5}]}, "mark": {"type":"rule","stroke":"#00c800","strokeWidth":2},
 "encoding": {"x":{"field":"t","type":"quantitative","axis":null},"y":{"datum":10},"y2":{"datum":-42.5}}},
{"data": {"values": [{"t":385.5,"label":"AVC"}]}, "mark": {"type":"text","fill":"#00c000","fontSize":14,"align":"left","baseline":"middle","dx":2},
 "encoding": {"x":{"field":"t","type":"quantitative","axis":null},"y":{"datum":8.47},"text":{"field":"label"}}},
{"data": {"values": [{"t":385.5,"label":"AVC"}]}, "mark": {"type":"text","fill":"#00a800","fontSize":9,"align":"left","baseline":"middle","dx":2},
 "encoding": {"x":{"field":"t","type":"quantitative","axis":null},"y":{"datum":-31.2},"text":{"field":"label"}}},
{"data": {"name":"a2c"}, "transform": [{"filter":"datum.seg !== 'bA'"}],
 "mark": {"type":"line","color":"#8c8c8c","strokeWidth":1.5,"interpolate":"monotone","clip":true},
 "encoding": {"x":{"field":"t","type":"quantitative","axis":null},"y":{"field":"s","type":"quantitative"},"detail":{"field":"seg"}}},
{"data": {"name":"a2c"}, "transform": [{"filter":"datum.seg === 'bA'"}],
 "mark": {"type":"line","color":"#ff0000","strokeWidth":3.5,"interpolate":"monotone","clip":true},
 "encoding": {"x":{"field":"t","type":"quantitative","axis":null},"y":{"field":"s","type":"quantitative"}}},
{"data": {"name":"a2cAvg"}, "mark": {"type":"line","color":"#ffffff","strokeWidth":3,"strokeDash":[3,4.5],"interpolate":"monotone","clip":true},
 "encoding": {"x":{"field":"t","type":"quantitative","axis":null},"y":{"field":"s","type":"quantitative"}}},
{"data": {"name":"a2cPk"}, "mark": {"type":"point","shape":"square","size":20,"filled":true,"fill":"#303030","stroke":"#ffffff","strokeWidth":1.2,"opacity":1},
 "encoding": {"x":{"field":"t","type":"quantitative","axis":null},"y":{"field":"s","type":"quantitative"}}},
{"data": {"name":"a2cEcg"}, "mark": {"type":"line","color":"#18b8c0","strokeWidth":1.6,"clip":true},
 "encoding": {"x":{"field":"t","type":"quantitative","axis":null},"y":{"field":"ecg","type":"quantitative"}}},
{"data": {"values": [{"t":28.7,"ecg":-31.8},{"t":785,"ecg":-32.5}]}, "mark": {"type":"point","shape":"circle","size":40,"filled":true,"fill":"#6a6a00","stroke":"#f0f000","strokeWidth":2,"opacity":1,"clip":true},
 "encoding": {"x":{"field":"t","type":"quantitative","axis":null},"y":{"field":"ecg","type":"quantitative"}}},
{"data": {"values": [{"label":"2CH"}]}, "mark": {"type":"rect","fill":"#6ed86e"},
 "encoding": {"x":{"datum":-49.2,"axis":null},"x2":{"datum":1.7},"y":{"datum":15.3},"y2":{"datum":12.23}}},
{"data": {"values": [{"label":"2CH"}]}, "mark": {"type":"text","fill":"#000000","fontSize":15,"align":"center","baseline":"middle"},
 "encoding": {"x":{"datum":-23.7,"axis":null},"y":{"datum":13.76},"text":{"field":"label"}}}
]
},
{
"width": 497, "height": 330,
"layer": [
{"data": {"values": [{"s":10},{"s":5},{"s":-5},{"s":-10},{"s":-15},{"s":-20},{"s":-25}]},
 "mark": {"type":"rule","stroke":"#c8c8c8","strokeWidth":1,"strokeDash":[3,3]},
 "encoding": {
  "x": {"datum":0,"type":"quantitative","scale":{"domain":[-49.12,822.81],"nice":false,"zero":false},"axis":null},
  "x2": {"datum":800},
  "y": {"field":"s","type":"quantitative","scale":{"domain":[-42.34,16.67],"nice":false,"zero":false},
   "axis":{"values":[10,5,0,-5,-10,-15,-20,-25,-30],"offset":-28,"labels":true,"ticks":true,"tickSize":3,"tickColor":"#8a8600","tickWidth":1.5,"labelColor":"#aaa66a","labelFontSize":13,"labelFont":"Liberation Sans","labelPadding":1,"domain":false,"grid":false,"title":null}}}},
{"data": {"values": [{"t":200},{"t":400},{"t":600},{"t":800}]},
 "mark": {"type":"rule","stroke":"#c8c8c8","strokeWidth":1,"strokeDash":[3,3]},
 "encoding": {"x":{"field":"t","type":"quantitative","axis":null},"y":{"datum":10},"y2":{"datum":-30}}},
{"data": {"values": [{"s":0}]}, "mark": {"type":"rule","stroke":"#e6e6e6","strokeWidth":2},
 "encoding": {"x":{"datum":0,"axis":null},"x2":{"datum":809},"y":{"field":"s","type":"quantitative"}}},
{"data": {"values": [{"s":-30}]}, "mark": {"type":"rule","stroke":"#a8a8a8","strokeWidth":1.5},
 "encoding": {"x":{"datum":0,"axis":null},"x2":{"datum":809},"y":{"field":"s","type":"quantitative"}}},
{"data": {"values": [{"t":0}]}, "mark": {"type":"rule","stroke":"#8a8600","strokeWidth":2},
 "encoding": {"x":{"field":"t","type":"quantitative","axis":null},"y":{"datum":10},"y2":{"datum":-30}}},
{"data": {"values": [{"t":30.4},{"t":783}]}, "mark": {"type":"rule","stroke":"#d8d400","strokeWidth":2},
 "encoding": {"x":{"field":"t","type":"quantitative","axis":null},"y":{"datum":10},"y2":{"datum":-42.34}}},
{"data": {"values": [{"t":384.2}]}, "mark": {"type":"rule","stroke":"#00c800","strokeWidth":2},
 "encoding": {"x":{"field":"t","type":"quantitative","axis":null},"y":{"datum":10},"y2":{"datum":-42.34}}},
{"data": {"values": [{"t":384.2,"label":"AVC"}]}, "mark": {"type":"text","fill":"#00c000","fontSize":14,"align":"left","baseline":"middle","dx":2},
 "encoding": {"x":{"field":"t","type":"quantitative","axis":null},"y":{"datum":8.5},"text":{"field":"label"}}},
{"data": {"values": [{"t":384.2,"label":"AVC"}]}, "mark": {"type":"text","fill":"#00a800","fontSize":9,"align":"left","baseline":"middle","dx":2},
 "encoding": {"x":{"field":"t","type":"quantitative","axis":null},"y":{"datum":-31.2},"text":{"field":"label"}}},
{"data": {"name":"alax"}, "mark": {"type":"line","strokeWidth":1.8,"interpolate":"monotone"},
 "encoding": {"x":{"field":"t","type":"quantitative","axis":null},"y":{"field":"s","type":"quantitative"},
  "color":{"field":"seg","type":"nominal","scale":{"domain":["bAS","mAS","apA","apL","mIL","bIL"],"range":["#e8e000","#20d020","#10c8d8","#e020e0","#2080e0","#e81010"]},"legend":null}}},
{"data": {"name":"alaxAvg"}, "mark": {"type":"line","color":"#ffffff","strokeWidth":3,"strokeDash":[3,4.5],"interpolate":"monotone"},
 "encoding": {"x":{"field":"t","type":"quantitative","axis":null},"y":{"field":"s","type":"quantitative"}}},
{"data": {"name":"arrow"}, "mark": {"type":"line","color":"#ffff00","strokeWidth":6.5,"strokeJoin":"miter","strokeCap":"butt"},
 "encoding": {"x":{"field":"t","type":"quantitative","axis":null},"y":{"field":"s","type":"quantitative"},"detail":{"field":"part"},"order":{"field":"k"}}},
{"data": {"name":"alaxPk"}, "mark": {"type":"point","shape":"square","size":20,"filled":true,"fill":"#303030","stroke":"#ffffff","strokeWidth":1.2,"opacity":1},
 "encoding": {"x":{"field":"t","type":"quantitative","axis":null},"y":{"field":"s","type":"quantitative"}}},
{"data": {"name":"alaxEcg"}, "mark": {"type":"line","color":"#18b8c0","strokeWidth":1.6,"clip":true},
 "encoding": {"x":{"field":"t","type":"quantitative","axis":null},"y":{"field":"ecg","type":"quantitative"}}},
{"data": {"values": [{"t":30.4,"ecg":-32.1},{"t":781,"ecg":-32.1}]}, "mark": {"type":"point","shape":"circle","size":40,"filled":true,"fill":"#6a6a00","stroke":"#f0f000","strokeWidth":2,"opacity":1},
 "encoding": {"x":{"field":"t","type":"quantitative","axis":null},"y":{"field":"ecg","type":"quantitative"}}},
{"data": {"values": [{"label":"APLAX"}]}, "mark": {"type":"rect","fill":"#2f8fe6"},
 "encoding": {"x":{"datum":-45.6,"axis":null},"x2":{"datum":29.3},"y":{"datum":15.5},"y2":{"datum":12.4}}},
{"data": {"values": [{"label":"APLAX"}]}, "mark": {"type":"text","fill":"#000000","fontSize":13,"align":"center","baseline":"middle"},
 "encoding": {"x":{"datum":-8.2,"axis":null},"y":{"datum":14.0},"text":{"field":"label"}}}
]
},
{
"width": 490, "height": 330,
"layer": [
{"layer": [
 {"data": {"values": [{"ring":"back","cx":-0.206,"cy":0.378,"a0":0,"a1":360,"r0":0.918,"r1":1.031},{"ring":"front","cx":0,"cy":0,"a0":0,"a1":360,"r0":1.0,"r1":1.113}]},
  "mark": {"type":"arc","fill":"#4a4a4a"},
  "encoding": {
   "x": {"field":"cx","type":"quantitative","scale":{"domain":[-2.464,2.588],"nice":false,"zero":false},"axis":null},
   "y": {"field":"cy","type":"quantitative","scale":{"domain":[-1.58,1.822],"nice":false,"zero":false},"axis":null},
   "theta": {"field":"a0","type":"quantitative","scale":{"domain":[0,360]},"stack":null},
   "theta2": {"field":"a1"},
   "radius": {"field":"r0","type":"quantitative","scale":{"type":"linear","domain":[0,1],"range":[0,97],"zero":true}},
   "radius2": {"field":"r1"}}},
 {"data": {"name":"bull"},
  "mark": {"type":"arc","stroke":"#f2e600","strokeWidth":1.6},
  "encoding": {
   "x": {"datum":0,"axis":null},
   "y": {"datum":0,"axis":null},
   "theta": {"field":"a0","type":"quantitative","scale":{"domain":[0,360]},"stack":null},
   "theta2": {"field":"a1"},
   "radius": {"field":"r0","type":"quantitative","scale":{"type":"linear","domain":[0,1],"range":[0,97],"zero":true}},
   "radius2": {"field":"r1"},
   "color": {"field":"v","type":"quantitative","scale":{"type":"threshold","domain":[-11.5,-6.5,-4.5],"range":["#ff2c2c","#f27676","#f5a0a0","#f8b8b8"]},"legend":null}}},
 {"data": {"name":"bull"},
  "mark": {"type":"text","fontSize":12,"fontWeight":"bold","fill":"#151515","align":"center","baseline":"middle"},
  "encoding": {
   "x": {"datum":0,"axis":null},
   "y": {"datum":0,"axis":null},
   "theta": {"field":"am","type":"quantitative","scale":{"domain":[0,360]},"stack":null},
   "radius": {"field":"rm","type":"quantitative","scale":{"type":"linear","domain":[0,1],"range":[0,97],"zero":true}},
   "text": {"field":"v","type":"nominal"}}},
 {"data": {"name":"walls"},
  "mark": {"type":"text","fontSize":12,"fontWeight":"bold","fill":"#8a8a8a","align":"center","baseline":"middle"},
  "encoding": {
   "x": {"datum":0,"axis":null},
   "y": {"datum":0,"axis":null},
   "theta": {"field":"ang","type":"quantitative","scale":{"domain":[0,360]},"stack":null},
   "radius": {"field":"rad","type":"quantitative","scale":{"type":"linear","domain":[0,1],"range":[0,97],"zero":true}},
   "text": {"field":"wall"}}},
 {"data": {"values": [{"label":"GS=-9.8%"}]},
  "mark": {"type":"text","fontSize":19,"fontWeight":"bold","fill":"#f0f000","align":"center","baseline":"middle"},
  "encoding": {"x":{"datum":1.737,"axis":null},"y":{"datum":1.224,"axis":null},"text":{"field":"label"}}}
]},
{"layer": [
 {"data": {"name":"scaleBar"},
  "mark": {"type":"rect"},
  "encoding": {
   "x": {"datum":2.358,"axis":null},
   "x2": {"datum":2.554},
   "y": {"field":"lo","type":"quantitative","scale":{"domain":[-117.4,44.36],"nice":false,"zero":false},"axis":null},
   "y2": {"field":"hi"},
   "color": {"field":"lo","type":"ordinal","scale":{"domain":[-20,-15,-10,-5,0,5,10,15],"range":["#dd0000","#ff2020","#ff7878","#ffbcc4","#b8b8ff","#7070ff","#3030f0","#0000d0"]},"legend":null}}},
 {"data": {"values": [{"label":"20","v":20}]},
  "mark": {"type":"text","fontSize":14,"fill":"#c0c0c0","align":"center","baseline":"bottom","dy":-5},
  "encoding": {"x":{"datum":2.454,"axis":null},"y":{"field":"v","type":"quantitative","axis":null},"text":{"field":"label"}}},
 {"data": {"values": [{"label":"-20","v":-20}]},
  "mark": {"type":"text","fontSize":14,"fill":"#c0c0c0","align":"center","baseline":"top","dy":8},
  "encoding": {"x":{"datum":2.454,"axis":null},"y":{"field":"v","type":"quantitative","axis":null},"text":{"field":"label"}}},
 {"data": {"values": [{"label":"%","v":-20}]},
  "mark": {"type":"text","fontSize":14,"fill":"#c0c0c0","align":"center","baseline":"top","dy":26},
  "encoding": {"x":{"datum":2.454,"axis":null},"y":{"field":"v","type":"quantitative","axis":null},"text":{"field":"label"}}}
]}
],
"resolve": {"scale": {"y": "independent", "color": "independent"}}
}
]
}
